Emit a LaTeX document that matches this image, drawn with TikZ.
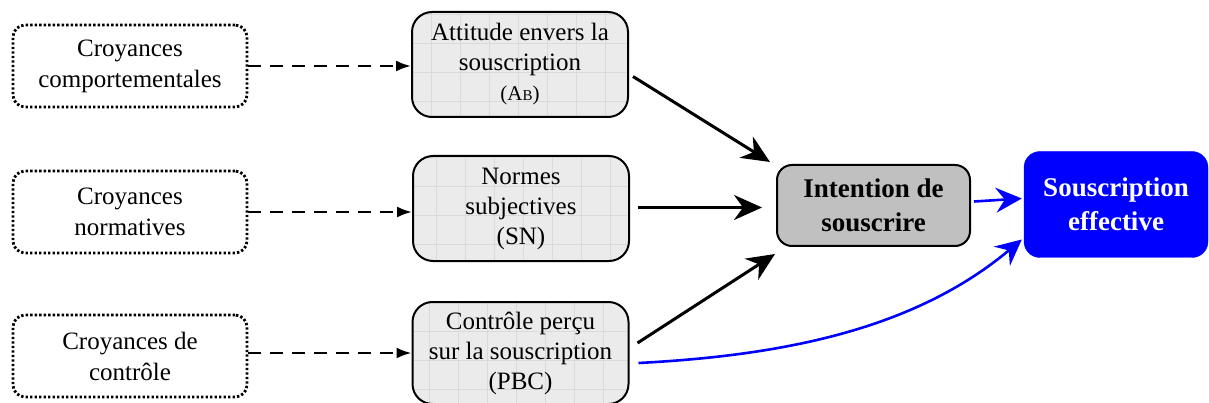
\documentclass[tikz,border=0pt]{standalone}
\usepackage{fontspec}
\setmainfont{Liberation Serif}
\usetikzlibrary{arrows.meta,calc}
\definecolor{midfill}{HTML}{EBEBEB}
\definecolor{gridcol}{HTML}{DADADA}
\definecolor{intfill}{HTML}{C0C0C0}
\definecolor{sblue}{HTML}{0000FF}
\tikzset{
  belief/.style={draw=black, line width=2.8pt, dash pattern=on 2.4pt off 2.1pt,
    rounded corners=12pt, minimum width=234pt, minimum height=82pt, inner sep=0pt,
    align=center, font=\fontsize{25}{31}\selectfont},
  midbox/.style={draw=black, line width=2pt, rounded corners=20pt, fill=midfill,
    minimum width=216pt, minimum height=105pt, inner sep=0pt, align=center,
    font=\fontsize{25}{30}\selectfont,
    path picture={\draw[gridcol, line width=0.6pt] (path picture bounding box.south west) grid[step=29pt] (path picture bounding box.north east);}},
  intbox/.style={draw=black, line width=2pt, rounded corners=15pt, fill=intfill,
    minimum width=193pt, minimum height=81pt, inner sep=0pt, align=center,
    font=\fontsize{27}{34}\selectfont\bfseries},
  effbox/.style={draw=sblue, fill=sblue, rounded corners=16pt, text=white,
    minimum width=184pt, minimum height=106pt, inner sep=0pt, align=center,
    font=\fontsize{27}{34}\selectfont\bfseries},
  dasharrow/.style={line width=2.4pt, dash pattern=on 13pt off 9pt, -{Latex[length=15pt,width=11pt]}},
  blackarrow/.style={line width=3pt, -{Stealth[length=28pt,width=25pt,inset=9pt]}},
  bluearrow/.style={sblue, line width=2.6pt, -{Stealth[length=26pt,width=25pt,inset=9pt]}},
}
\begin{document}
\begin{tikzpicture}[x=1pt,y=-1pt]
\useasboundingbox (0,0) rectangle (1209,403);
\node[belief] (cb1) at (130,66) {Croyances\\comportementales};
\node[belief] (cb2) at (130,212) {Croyances\\normatives};
\node[belief] (cb3) at (130,356) {Croyances de\\contrôle};
\node[midbox] (m1) at (520,64.5) {Attitude envers la\\souscription\\{\fontsize{21}{24}\selectfont(A{\fontsize{15}{18}\selectfont B})}};
\node[midbox] (m2) at (521,208.5) {Normes\\subjectives\\(SN)};
\node[midbox, minimum height=102pt] (m3) at (520.5,353) {Contrôle perçu\\sur la souscription\\(PBC)};
\node[intbox] (int) at (873.5,205.5) {Intention de\\souscrire};
\node[effbox] (se) at (1116,204.5) {Souscription\\effective};
\draw[dasharrow] (cb1.east) -- (cb1.east -| m1.west);
\draw[dasharrow] (cb2.east) -- (cb2.east -| m2.west);
\draw[dasharrow] (cb3.east |- m3.west) -- (m3.west);
\draw[blackarrow] ([shift={(4,12)}]m1.east) -- ([shift={(-6,-2)}]int.north west);
\draw[blackarrow] ([shift={(8,-1)}]m2.east) -- ([shift={(-14,-1)}]m2.east -| int.west);
\draw[blackarrow] ([shift={(8,-10)}]m3.east) -- ([shift={(-1,7)}]int.south west);
\draw[bluearrow] ([shift={(3,-4)}]int.east) -- ([shift={(-2,-6)}]se.west);
\draw[bluearrow] ([shift={(9,10)}]m3.east) to[out=3,in=-140,looseness=0.9] ([shift={(-2,35)}]se.west);
\end{tikzpicture}
\end{document}
